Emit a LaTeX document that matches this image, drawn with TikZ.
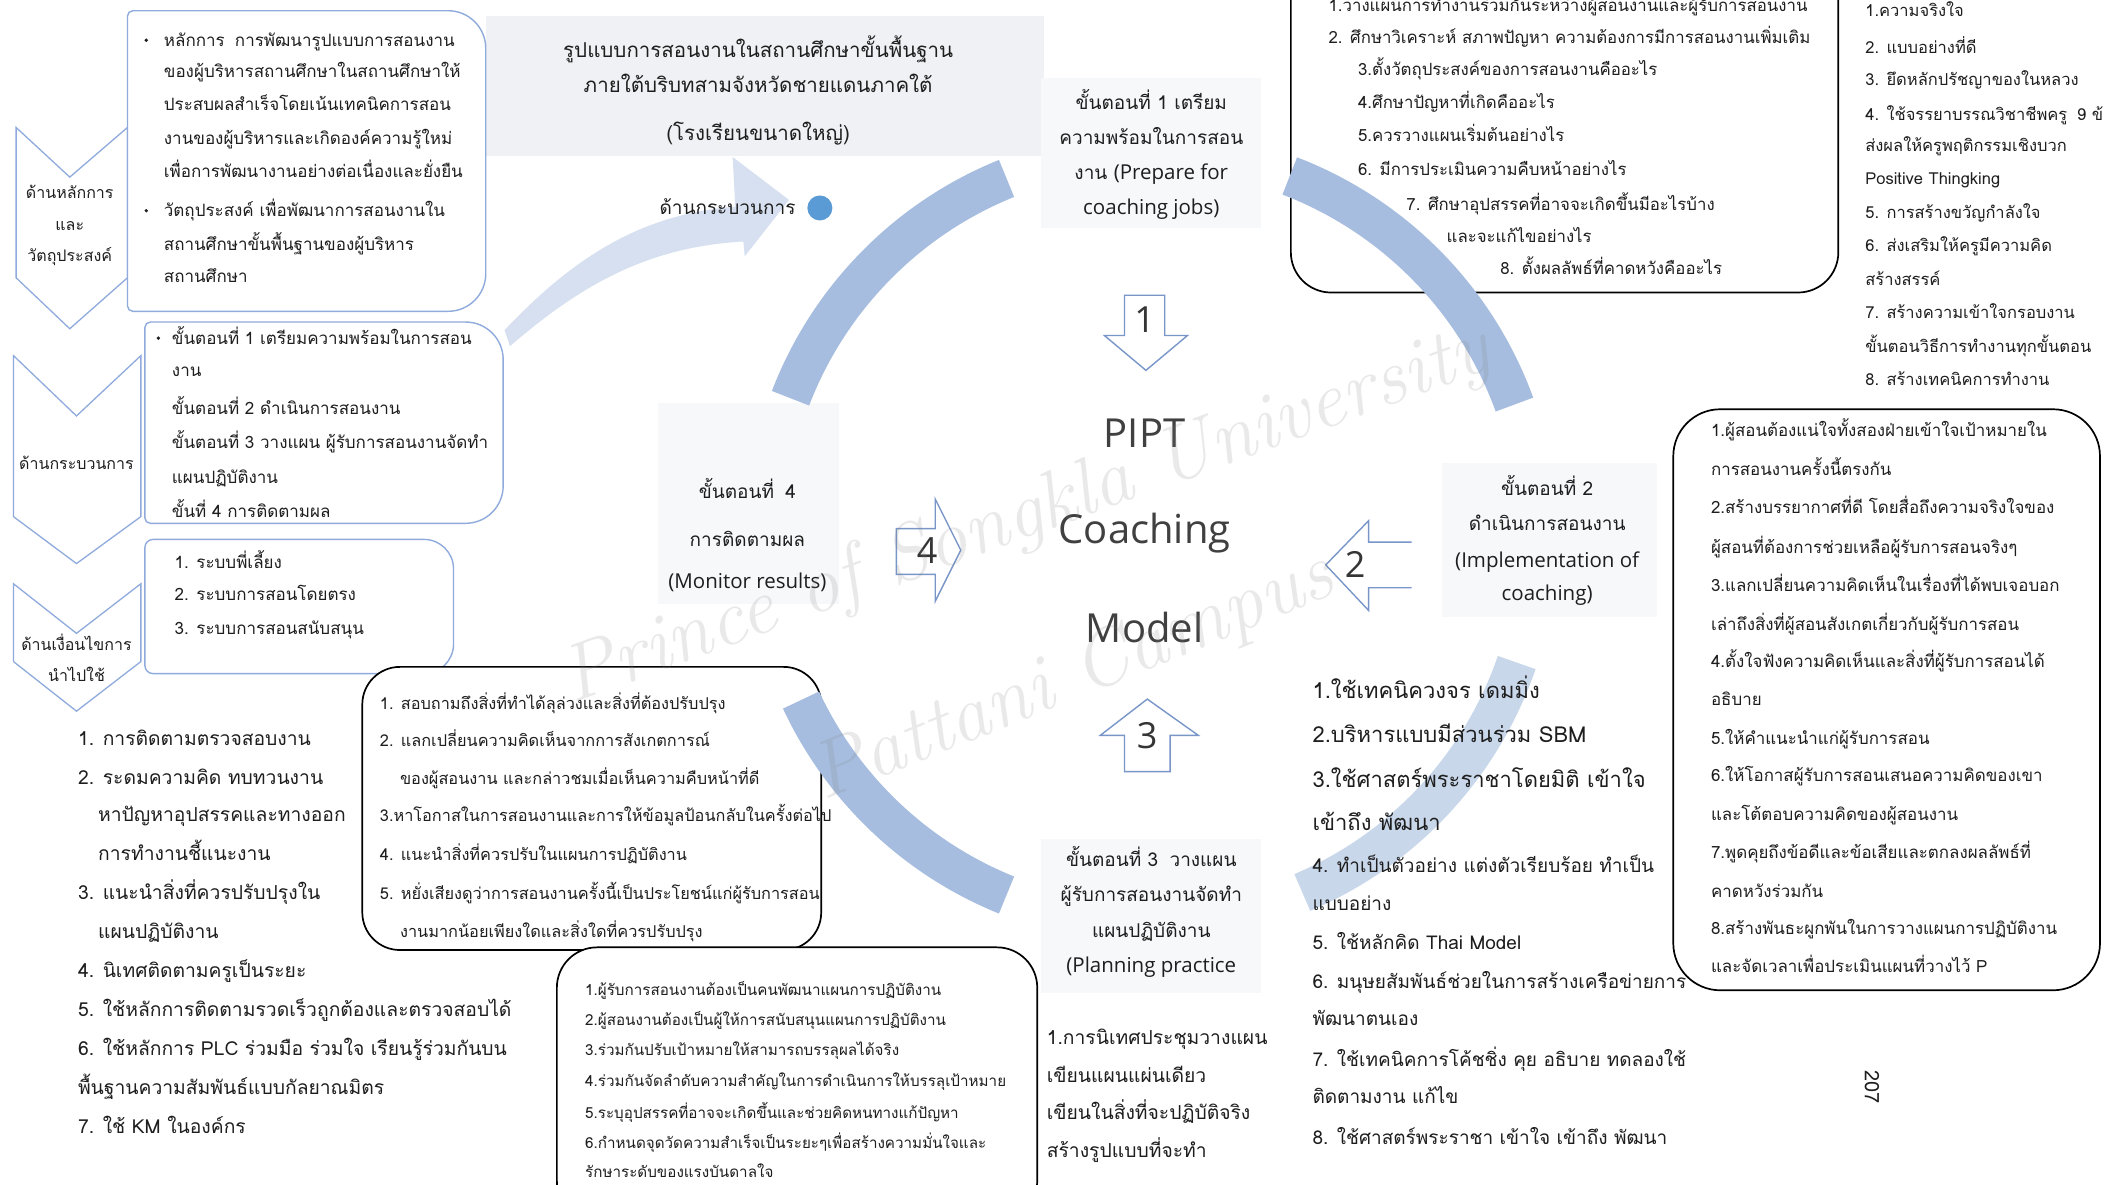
\documentclass[tikz,border=0pt]{standalone}
\usepackage{fontspec}
\newfontfamily\thf[Script=Thai]{Loma}
\newfontfamily\enf{Open Sans}
\definecolor{ringblue}{RGB}{166,189,223}
\definecolor{lineblue}{RGB}{143,170,220}
\definecolor{dotblue}{RGB}{91,155,213}
\definecolor{arrowline}{RGB}{120,150,200}
\definecolor{paleblue}{RGB}{214,224,240}
\definecolor{panelgray}{RGB}{239,241,244}
\definecolor{patchgray}{RGB}{247,248,249}
\definecolor{ink}{RGB}{30,30,30}
\newcommand\mybox[7][]{%
  \draw[#1] ({#2+#6},#3) -- ({#4-#7},#3) arc[start angle=-90,end angle=0,radius=#7]
   -- (#4,{#5-#7}) arc[start angle=0,end angle=90,radius=#7]
   -- ({#2+#6},#5) arc[start angle=90,end angle=180,radius=#6]
   -- (#2,{#3+#6}) arc[start angle=180,end angle=270,radius=#6] -- cycle;}
\newcommand\en[1]{{\enf\fontsize{20.5}{24}\selectfont #1}}
\tikzset{
  tl/.style={anchor=mid west, inner sep=0pt, text=ink, yshift=-4pt},
  tc/.style={anchor=mid, inner sep=0pt, text=ink, align=center, yshift=-4pt},
  fBox/.style={font=\thf\fontsize{17}{20}\selectfont},
  fChev/.style={font=\thf\fontsize{16}{20}\selectfont},
  fList/.style={font=\thf\fontsize{19.3}{24}\selectfont},
  fMid/.style={font=\thf\fontsize{16.3}{18}\selectfont},
  fBot/.style={font=\thf\fontsize{15.2}{16}\selectfont},
  fTR/.style={font=\thf\fontsize{16.8}{18}\selectfont},
  fFR/.style={font=\thf\fontsize{16.5}{18}\selectfont},
  fRB/.style={font=\thf\fontsize{16.9}{18}\selectfont},
  fBRa/.style={font=\thf\fontsize{22}{24}\selectfont},
  fBRb/.style={font=\thf\fontsize{19}{22}\selectfont},
  fK/.style={font=\thf\fontsize{19.3}{22}\selectfont},
  fTitle/.style={font=\thf\fontsize{20.5}{24}\selectfont},
  fStep/.style={font=\thf\fontsize{19}{22}\selectfont},
  fCenter/.style={font=\enf\fontsize{40}{44}\selectfont, text=ink!85},
  fDigit/.style={font=\enf\fontsize{36}{40}\selectfont, text=ink!90},
  chev/.style={draw=lineblue, line width=1.3pt, fill=white, line join=miter},
  bbox/.style={draw=lineblue, line width=1.4pt, fill=white},
  kbox/.style={draw=black, line width=1.7pt, fill=white},
  ringseg/.style={draw=ringblue, line width=40pt},
  barrow/.style={draw=arrowline, line width=1.4pt, fill=white, line join=miter},
  bul/.style={circle, fill=ink, inner sep=1.3pt}
}
\begin{document}
\begin{tikzpicture}[x=1.342pt,y=-1.342pt]
\useasboundingbox (0,0) rectangle (1568,883);
\fill[white] (0,0) rectangle (1568,883);
% title panel and label patches
\fill[panelgray] (362,12) rectangle (778,116);
\fill[patchgray] (776,58) rectangle (940,170);
\fill[patchgray] (1075,345) rectangle (1235,460);
\fill[patchgray] (776,625) rectangle (940,740);
\fill[patchgray] (490,300) rectangle (625,450);
% chevrons
\draw[chev] (12,95) -- (52,132) -- (95,95) -- (95,207) -- (52,245) -- (12,207) -- cycle;
\draw[chev] (10,265) -- (57,310) -- (105,265) -- (105,385) -- (57,420) -- (10,385) -- cycle;
\draw[chev] (10,435) -- (57,472) -- (105,435) -- (105,493) -- (57,530) -- (10,493) -- cycle;
% curved arrow towards the process label
\fill[paleblue] (376,246) .. controls (420,200) and (470,160) .. (548,154)
  -- (546,117) -- (588,149) -- (555,191) -- (554,180)
  .. controls (480,184) and (430,215) .. (380,258) -- cycle;
% blue boxes
\mybox[bbox]{95}{8}{362}{232}{4}{28}
\mybox[bbox]{108}{240}{375}{390}{4}{28}
\mybox[bbox]{108}{402}{338}{502}{6}{22}
% black boxes
\mybox[kbox]{962}{-30}{1370}{218}{30}{30}
\mybox[kbox]{270}{497}{612}{708}{28}{28}
\mybox[kbox]{415}{706}{773}{910}{30}{30}
% ring
\foreach \a/\b in {-112/-159, -20/-69, 112/155}
  \draw[ringseg] (858,400) ++(\a:288) arc[start angle=\a,end angle=\b,radius=288];
\draw[ringseg, draw opacity=0.6] (858,400) ++(19:288) arc[start angle=19,end angle=67,radius=288];
% block arrows
\draw[barrow] (838,220) -- (868,220) -- (868,250) -- (885,250) -- (854,276) -- (823,250) -- (838,250) -- cycle;
\draw[barrow] (1052,404) -- (1020,404) -- (1020,388) -- (988,421) -- (1020,455) -- (1020,438) -- (1052,438);
\draw[barrow] (838,575) -- (838,548) -- (820,548) -- (855,521) -- (893,548) -- (872,548) -- (872,575) -- cycle;
\draw[barrow] (668,394) -- (697,394) -- (697,372) -- (716,410) -- (697,448) -- (697,428) -- (668,428) -- cycle;
\node[fDigit] (d1) at (853,238) {1};
\node[fDigit] (d2) at (1010,421) {2};
\node[fDigit] (d3) at (855,548) {3};
\node[fDigit] (d4) at (691,410) {4};
% centre
\node[fCenter] (pipt) at (853,323) {PIPT};
\node[fCenter] (coach) at (853,397) {Coaching};
\node[fCenter] (model) at (853,468) {Model};
% title
\node[tc,fTitle] (ti1) at (565,38) {รูปแบบการสอนงานในสถานศึกษาขั้นพื้นฐาน};
\node[tc,fTitle] (ti2) at (565,64) {ภายใต้บริบทสามจังหวัดชายแดนภาคใต้};
\node[tc,fTitle] (ti3) at (565,100) {(โรงเรียนขนาดใหญ่)};
\node[anchor=mid east, inner sep=0pt, text=ink, yshift=-4pt, font=\thf\fontsize{19}{22}\selectfont] (proc) at (593,155) {ด้านกระบวนการ};
\node[circle, fill=dotblue, minimum size=25pt, inner sep=0pt] (dot) at (611,155) {};
% step labels
\node[tc,fStep] (s1a) at (858,77) {ขั้นตอนที่ 1 เตรียม};
\node[tc,fStep] (s1b) at (858,103) {ความพร้อมในการสอน};
\node[tc,fStep] (s1c) at (858,129) {งาน \en{(Prepare for}};
\node[tc,fStep] (s1d) at (858,155) {\en{coaching jobs)}};
\node[tc,fStep] (s2a) at (1153,365) {ขั้นตอนที่ 2};
\node[tc,fStep] (s2b) at (1153,391) {ดำเนินการสอนงาน};
\node[tc,fStep] (s2c) at (1153,418) {\en{(Implementation of}};
\node[tc,fStep] (s2d) at (1153,443) {\en{coaching)}};
\node[tc,fStep] (s3a) at (858,641) {ขั้นตอนที่ 3\hspace{0.6em}วางแผน};
\node[tc,fStep] (s3b) at (858,667) {ผู้รับการสอนงานจัดทำ};
\node[tc,fStep] (s3c) at (858,694) {แผนปฏิบัติงาน};
\node[tc,fStep] (s3d) at (858,720) {\en{(Planning practice}};
\node[tc,fStep] (s4a) at (557,367) {ขั้นตอนที่\hspace{0.6em}4};
\node[tc,fStep] (s4b) at (557,403) {การติดตามผล};
\node[tc,fStep] (s4c) at (557,434) {\en{(Monitor results)}};
% chevron labels
\node[tc,fChev] (c1a) at (52,143) {ด้านหลักการ};
\node[tc,fChev] (c1b) at (52,167) {และ};
\node[tc,fChev] (c1c) at (52,190) {วัตถุประสงค์};
\node[tc,fChev] (c2a) at (57,345) {ด้านกระบวนการ};
\node[tc,fChev] (c3a) at (57,480) {ด้านเงื่อนไขการ};
\node[tc,fChev] (c3b) at (57,503) {นำไปใช้};
% box A
\node[bul] (ba1) at (109,30) {};
\node[bul] (ba2) at (109,157) {};
\foreach \y/\t [count=\i] in {30/{หลักการ\hspace{0.6em}การพัฒนารูปแบบการสอนงาน},53/{ของผู้บริหารสถานศึกษาในสถานศึกษาให้},78/{ประสบผลสำเร็จโดยเน้นเทคนิคการสอน},103/{งานของผู้บริหารและเกิดองค์ความรู้ใหม่},128/{เพื่อการพัฒนางานอย่างต่อเนื่องและยั่งยืน},157/{วัตถุประสงค์ เพื่อพัฒนาการสอนงานใน},182/{สถานศึกษาขั้นพื้นฐานของผู้บริหาร},206/{สถานศึกษา}}
  \node[tl,fBox] (pa\i) at (122,\y) {\t};
% box B
\node[bul] (bb1) at (118,252) {};
\foreach \y/\t [count=\i] in {252/{ขั้นตอนที่ 1 เตรียมความพร้อมในการสอน},276/{งาน},304/{ขั้นตอนที่ 2 ดำเนินการสอนงาน},330/{ขั้นตอนที่ 3 วางแผน ผู้รับการสอนงานจัดทำ},356/{แผนปฏิบัติงาน},381/{ขั้นที่ 4 การติดตามผล}}
  \node[tl,fBox] (pb\i) at (128,\y) {\t};
% box C
\foreach \y/\t [count=\i] in {419/{1. ระบบพี่เลี้ยง},443/{2. ระบบการสอนโดยตรง},468/{3. ระบบการสอนสนับสนุน}}
  \node[tl,fBox] (pc\i) at (130,\y) {\t};
% list D
\foreach \x/\y/\t [count=\i] in {58/551/{1. การติดตามตรวจสอบงาน},58/580/{2. ระดมความคิด ทบทวนงาน},73/608/{หาปัญหาอุปสรรคและทางออก},73/637/{การทำงานชี้แนะงาน},58/666/{3. แนะนำสิ่งที่ควรปรับปรุงใน},73/695/{แผนปฏิบัติงาน},58/724/{4. นิเทศติดตามครูเป็นระยะ},58/753/{5. ใช้หลักการติดตามรวดเร็วถูกต้องและตรวจสอบได้},58/782/{6. ใช้หลักการ PLC ร่วมมือ ร่วมใจ เรียนรู้ร่วมกันบน},58/811/{พื้นฐานความสัมพันธ์แบบกัลยาณมิตร},58/840/{7. ใช้ KM ในองค์กร}}
  \node[tl,fList] (pd\i) at (\x,\y) {\t};
% box E
\foreach \x/\y/\t [count=\i] in {283/524/{1. สอบถามถึงสิ่งที่ทำได้ลุล่วงและสิ่งที่ต้องปรับปรุง},283/552/{2. แลกเปลี่ยนความคิดเห็นจากการสังเกตการณ์},298/580/{ของผู้สอนงาน และกล่าวชมเมื่อเห็นความคืบหน้าที่ดี},283/608/{3.หาโอกาสในการสอนงานและการให้ข้อมูลป้อนกลับในครั้งต่อไป},283/637/{4. แนะนำสิ่งที่ควรปรับในแผนการปฏิบัติงาน},283/666/{5. หยั่งเสียงดูว่าการสอนงานครั้งนี้เป็นประโยชน์แก่ผู้รับการสอน},298/694/{งานมากน้อยเพียงใดและสิ่งใดที่ควรปรับปรุง}}
  \node[tl,fMid] (pe\i) at (\x,\y) {\t};
% box F
\foreach \y/\t [count=\i] in {737/{1.ผู้รับการสอนงานต้องเป็นคนพัฒนาแผนการปฏิบัติงาน},760/{2.ผู้สอนงานต้องเป็นผู้ให้การสนับสนุนแผนการปฏิบัติงาน},782/{3.ร่วมกันปรับเป้าหมายให้สามารถบรรลุผลได้จริง},805/{4.ร่วมกันจัดลำดับความสำคัญในการดำเนินการให้บรรลุเป้าหมาย},829/{5.ระบุอุปสรรคที่อาจจะเกิดขึ้นและช่วยคิดหนทางแก้ปัญหา},851/{6.กำหนดจุดวัดความสำเร็จเป็นระยะๆเพื่อสร้างความมั่นใจและ},873/{รักษาระดับของแรงบันดาลใจ}}
  \node[tl,fBot] (pf\i) at (436,\y) {\t};
% box G
\foreach \x/\y/\t [count=\i] in {990/4/{1.วางแผนการทำงานร่วมกันระหว่างผู้สอนงานและผู้รับการสอนงาน},990/28/{2. ศึกษาวิเคราะห์ สภาพปัญหา ความต้องการมีการสอนงานเพิ่มเติม},1012/52/{3.ตั้งวัตถุประสงค์ของการสอนงานคืออะไร},1012/76/{4.ศึกษาปัญหาที่เกิดคืออะไร},1012/101/{5.ควรวางแผนเริ่มต้นอย่างไร},1012/126/{6. มีการประเมินความคืบหน้าอย่างไร},1048/152/{7. ศึกษาอุปสรรคที่อาจจะเกิดขึ้นมีอะไรบ้าง},1078/176/{และจะแก้ไขอย่างไร},1118/200/{8. ตั้งผลลัพธ์ที่คาดหวังคืออะไร}}
  \node[tl,fTR] (pg\i) at (\x,\y) {\t};
% list H
\foreach \y/\t [count=\i] in {8/{1.ความจริงใจ},35/{2. แบบอย่างที่ดี},59/{3. ยึดหลักปรัชญาของในหลวง},85/{4. ใช้จรรยาบรรณวิชาชีพครู\hspace{0.6em}9 ข้อ},108/{ส่งผลให้ครูพฤติกรรมเชิงบวก},133/{Positive Thingking},158/{5. การสร้างขวัญกำลังใจ},183/{6. ส่งเสริมให้ครูมีความคิด},208/{สร้างสรรค์},233/{7. สร้างความเข้าใจกรอบงาน},258/{ขั้นตอนวิธีการทำงานทุกขั้นตอน},283/{8. สร้างเทคนิคการทำงาน}}
  \node[tl,fFR] (ph\i) at (1390,\y) {\t};
% list J
\foreach \y/\t [count=\i] in {516/{1.ใช้เทคนิควงจร เดมมิ่ง},549/{2.บริหารแบบมีส่วนร่วม SBM},582/{3.ใช้ศาสตร์พระราชาโดยมิติ เข้าใจ},614/{เข้าถึง พัฒนา}}
  \node[tl,fBRa] (pj\i) at (978,\y) {\t};
\foreach \y/\t [count=\i] in {646/{4. ทำเป็นตัวอย่าง แต่งตัวเรียบร้อย ทำเป็น},674/{แบบอย่าง},703/{5. ใช้หลักคิด Thai Model},732/{6. มนุษยสัมพันธ์ช่วยในการสร้างเครือข่ายการ},760/{พัฒนาตนเอง},790/{7. ใช้เทคนิคการโค้ชชิ่ง คุย อธิบาย ทดลองใช้},818/{ติดตามงาน แก้ไข},848/{8. ใช้ศาสตร์พระราชา เข้าใจ เข้าถึง พัฒนา}}
  \node[tl,fBRb] (pk\i) at (978,\y) {\t};
% right box drawn over the end of list J
\mybox[kbox]{1247}{305}{1565}{738}{35}{35}
% box I
\foreach \y/\t [count=\i] in {321/{1.ผู้สอนต้องแน่ใจทั้งสองฝ่ายเข้าใจเป้าหมายใน},350/{การสอนงานครั้งนี้ตรงกัน},378/{2.สร้างบรรยากาศที่ดี โดยสื่อถึงความจริงใจของ},408/{ผู้สอนที่ต้องการช่วยเหลือผู้รับการสอนจริงๆ},436/{3.แลกเปลี่ยนความคิดเห็นในเรื่องที่ได้พบเจอบอก},465/{เล่าถึงสิ่งที่ผู้สอนสังเกตเกี่ยวกับผู้รับการสอน},493/{4.ตั้งใจฟังความคิดเห็นและสิ่งที่ผู้รับการสอนได้},521/{อธิบาย},550/{5.ให้คำแนะนำแก่ผู้รับการสอน},578/{6.ให้โอกาสผู้รับการสอนเสนอความคิดของเขา},607/{และโต้ตอบความคิดของผู้สอนงาน},635/{7.พูดคุยถึงข้อดีและข้อเสียและตกลงผลลัพธ์ที่},664/{คาดหวังร่วมกัน},692/{8.สร้างพันธะผูกพันในการวางแผนการปฏิบัติงาน},720/{และจัดเวลาเพื่อประเมินแผนที่วางไว้ P}}
  \node[tl,fRB] (pi\i) at (1275,\y) {\t};
% text K
\foreach \y/\t [count=\i] in {774/{1.การนิเทศประชุมวางแผน},802/{เขียนแผนแผ่นเดียว},830/{เขียนในสิ่งที่จะปฏิบัติจริง},858/{สร้างรูปแบบที่จะทำ}}
  \node[tl,fK] (pl\i) at (780,\y) {\t};
% page number
\node[font=\thf\fontsize{20}{22}\selectfont, rotate=-90, text=ink] (pgno) at (1395,810) {207};
% watermark
\node[font=\rmfamily\itshape\fontsize{80}{80}\selectfont, text=gray, opacity=0.17, rotate=20] (wm1) at (765,385) {Prince of Songkla University};
\node[font=\rmfamily\itshape\fontsize{80}{80}\selectfont, text=gray, opacity=0.17, rotate=22] (wm2) at (800,505) {Pattani Campus};
\end{tikzpicture}
\end{document}
